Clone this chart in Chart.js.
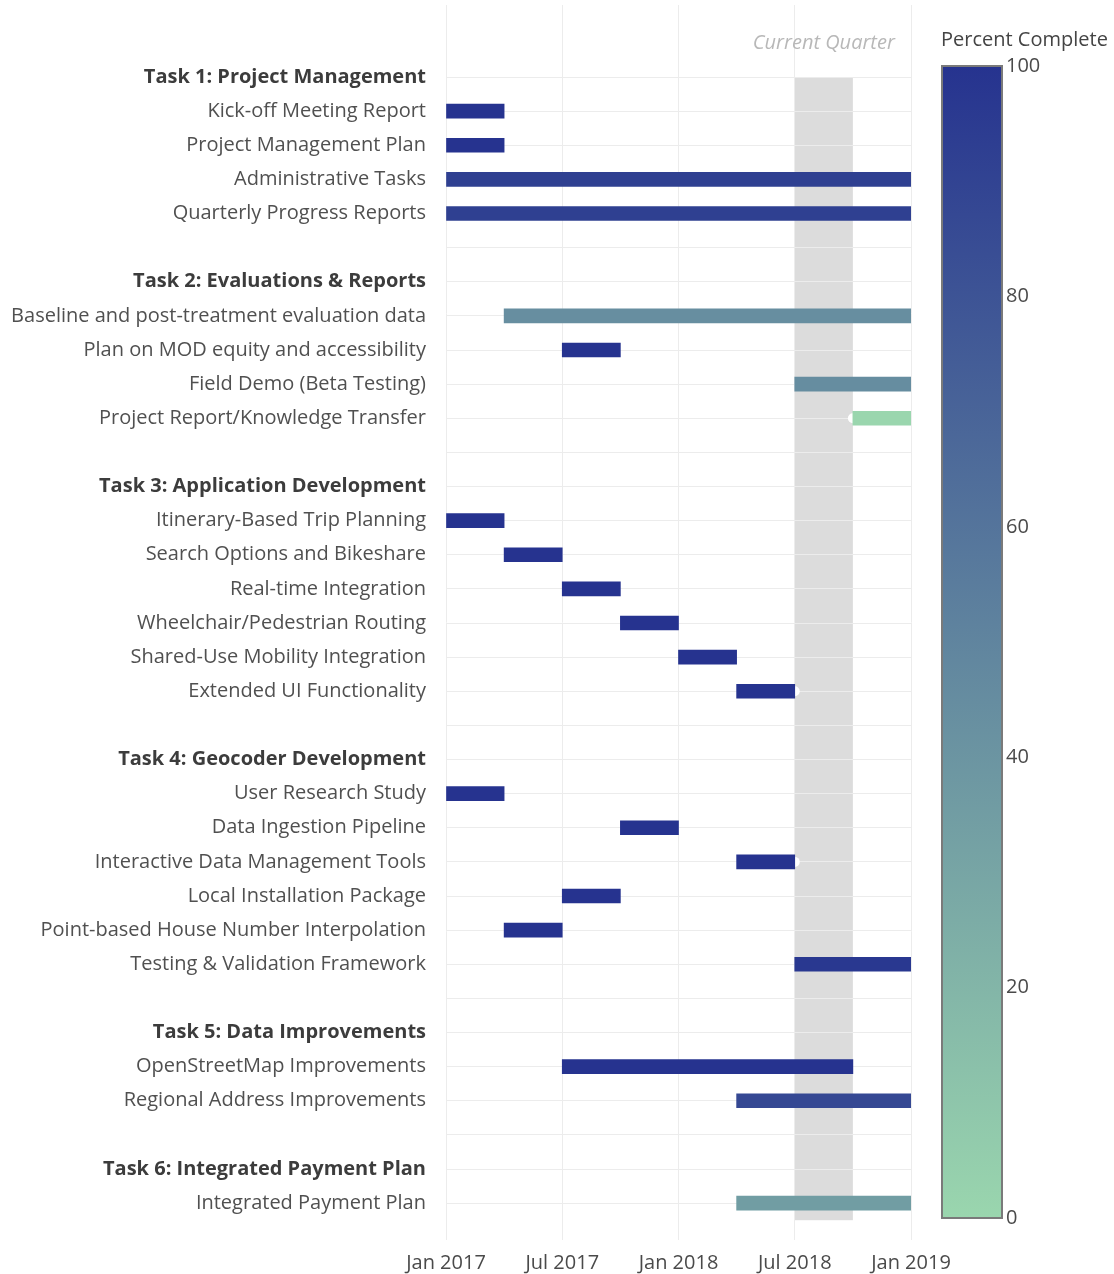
<!DOCTYPE html>
<html>
<head>
<meta charset="utf-8">
<title>Project Gantt</title>
<script src="https://cdn.jsdelivr.net/npm/chart.js@4.4.0/dist/chart.umd.min.js"></script>
<style>
  html, body { margin: 0; padding: 0; background: #fff; }
  #wrap { width: 1114px; height: 1274px; position: relative; }
</style>
</head>
<body>
<div id="wrap"><canvas id="gantt"></canvas></div>
<script>

// rows top to bottom, '' = spacer row
const rowLabels = [
  'Task 1: Project Management',
  'Kick-off Meeting Report',
  'Project Management Plan',
  'Administrative Tasks',
  'Quarterly Progress Reports',
  '',
  'Task 2: Evaluations & Reports',
  'Baseline and post-treatment evaluation data',
  'Plan on MOD equity and accessibility',
  'Field Demo (Beta Testing)',
  'Project Report/Knowledge Transfer',
  '',
  'Task 3: Application Development',
  'Itinerary-Based Trip Planning',
  'Search Options and Bikeshare',
  'Real-time Integration',
  'Wheelchair/Pedestrian Routing',
  'Shared-Use Mobility Integration',
  'Extended UI Functionality',
  '',
  'Task 4: Geocoder Development',
  'User Research Study',
  'Data Ingestion Pipeline',
  'Interactive Data Management Tools',
  'Local Installation Package',
  'Point-based House Number Interpolation',
  'Testing & Validation Framework',
  '',
  'Task 5: Data Improvements',
  'OpenStreetMap Improvements',
  'Regional Address Improvements',
  '',
  'Task 6: Integrated Payment Plan',
  'Integrated Payment Plan'
]

// months since Jan 2017 (null = no bar)
const startMonth = [null, 0, 0, 0, 0, null,
  null, 3, 6, 18, 21, null,
  null, 0, 3, 6, 9, 12, 15, null,
  null, 0, 9, 15, 6, 3, 18, null,
  null, 6, 15, null,
  null, 15]
const endMonth = [null, 3, 3, 24, 24, null,
  null, 24, 9, 24, 24, null,
  null, 3, 6, 9, 12, 15, 18, null,
  null, 3, 12, 18, 9, 6, 24, null,
  null, 21, 24, null,
  null, 24]
const percentComplete = [null, 100, 100, 92, 92, null,
  null, 44, 100, 45, 0, null,
  null, 100, 100, 100, 100, 100, 100, null,
  null, 100, 100, 100, 100, 100, 97, null,
  null, 100, 87, null,
  null, 35]

// small white markers at bar ends
const markerRow = [18, 10, 23]
const markerMonth = [18, 21, 18]

const xTickMonths = [0, 6, 12, 18, 24]
const xTickLabels = ['Jan 2017', 'Jul 2017', 'Jan 2018', 'Jul 2018', 'Jan 2019']
const currentQuarter = [18, 21]
const cbTicks = [0, 20, 40, 60, 80, 100]

const lowColor = [154, 214, 174]
const highColor = [38, 51, 143]

let pctColor = (p) => {
  let t = p / 100
  let c = lowColor.map((v, i) => Math.round(v + (highColor[i] - v) * t))
  return 'rgb(' + c.join(',') + ')'
}

let isHeader = (i) => /^Task \d/.test(rowLabels[i] || '')
let tickHeader = (c) => !!(c && c.tick && isHeader(c.tick.value))

const bars = []
rowLabels.forEach((lab, i) => {
  if (startMonth[i] !== null) bars.push({ y: i, x: [startMonth[i], endMonth[i]], pct: percentComplete[i] })
})
const markers = markerRow.map((r, i) => ({ x: markerMonth[i], y: r }))

const FONT = 'Open Sans'
const CLEAR = 'rgba(0,0,0,0)'

const extras = {
  id: 'extras',
  beforeDraw(chart) {
    const { ctx, scales: { x, y } } = chart
    let x0 = x.getPixelForValue(currentQuarter[0])
    let x1 = x.getPixelForValue(currentQuarter[1])
    let y0 = y.getPixelForValue(0)
    let y1 = y.getPixelForValue(rowLabels.length - 0.5)
    ctx.save()
    ctx.fillStyle = '#dcdcdc'
    ctx.fillRect(x0, y0, x1 - x0, y1 - y0)
    ctx.restore()
  },
  afterDraw(chart) {
    const { ctx, chartArea, scales: { x, y } } = chart
    ctx.save()
    /* etiqueta del trimestre actual */
    ctx.font = 'italic 20px "' + FONT + '"'
    ctx.fillStyle = '#b8b8b8'
    ctx.textAlign = 'center'
    ctx.textBaseline = 'middle'
    let mid = (currentQuarter[0] + currentQuarter[1]) / 2
    ctx.fillText('Current Quarter', x.getPixelForValue(mid), y.getPixelForValue(-1))

    /* barra de color */
    let left = chartArea.right + 31
    let w = 60
    let top = chartArea.top + 61
    let bottom = chartArea.bottom - 22
    let grad = ctx.createLinearGradient(0, bottom, 0, top)
    grad.addColorStop(0, pctColor(0))
    grad.addColorStop(1, pctColor(100))
    ctx.fillStyle = grad
    ctx.fillRect(left, top, w, bottom - top)
    ctx.strokeStyle = '#7a7a7a'
    ctx.lineWidth = 2
    ctx.strokeRect(left, top, w, bottom - top)

    ctx.font = '20px "' + FONT + '"'
    ctx.fillStyle = '#4a4a4a'
    ctx.textAlign = 'left'
    cbTicks.forEach(v => {
      let py = bottom - (bottom - top) * v / 100
      ctx.fillText(String(v), left + w + 4, py)
    })
    ctx.fillStyle = '#444'
    ctx.fillText('Percent Complete', left - 1, top - 26)
    ctx.restore()
  }
}

const ctx = document.getElementById('gantt')

const config = {
  type: 'bar',
  data: {
    datasets: [{
      data: bars,
      backgroundColor: (c) => c.raw ? pctColor(c.raw.pct) : '#000',
      borderWidth: 0,
      barThickness: 14,
      order: 0
    }, {
      type: 'scatter',
      data: markers,
      pointRadius: 5,
      pointBackgroundColor: '#fff',
      pointBorderWidth: 0,
      order: 1
    }]
  },
  options: {
    indexAxis: 'y',
    responsive: true,
    maintainAspectRatio: false,
    animation: false,
    layout: { padding: { top: 5, left: 0, right: 203, bottom: 0 } },
    plugins: { legend: { display: false }, tooltip: { enabled: false } },
    scales: {
      x: {
        type: 'linear',
        min: 0,
        max: 24,
        afterBuildTicks: (s) => { s.ticks = xTickMonths.map(v => ({ value: v })) },
        ticks: {
          callback: (v) => xTickLabels[xTickMonths.indexOf(v)],
          color: '#4a4a4a',
          font: { family: FONT, size: 20 },
          padding: 11,
          maxRotation: 0,
          autoSkip: false
        },
        grid: { color: '#ececec', drawTicks: false, offset: false },
        border: { display: false },
        afterFit: (s) => { s.height = 34 }
      },
      y: {
        type: 'linear',
        reverse: true,
        offset: false,
        min: -2.11,
        max: 34.08,
        afterBuildTicks: (s) => { s.ticks = rowLabels.map((_, i) => ({ value: i })) },
        ticks: {
          callback: (v) => rowLabels[v],
          color: (c) => tickHeader(c) ? '#3c3c3c' : '#505050',
          font: (c) => ({ family: FONT, size: 20, weight: tickHeader(c) ? 'bold' : 'normal' }),
          padding: 0,
          autoSkip: false
        },
        grid: { color: '#ececec', offset: false, drawTicks: true, tickLength: 20, tickColor: CLEAR },
        border: { display: false },
        afterFit: (s) => { s.width = 446; s.paddingTop = 0; s.paddingBottom = 0 }
      }
    }
  },
  plugins: [extras]
}

const chart = new Chart(ctx, config)

</script>
</body>
</html>
